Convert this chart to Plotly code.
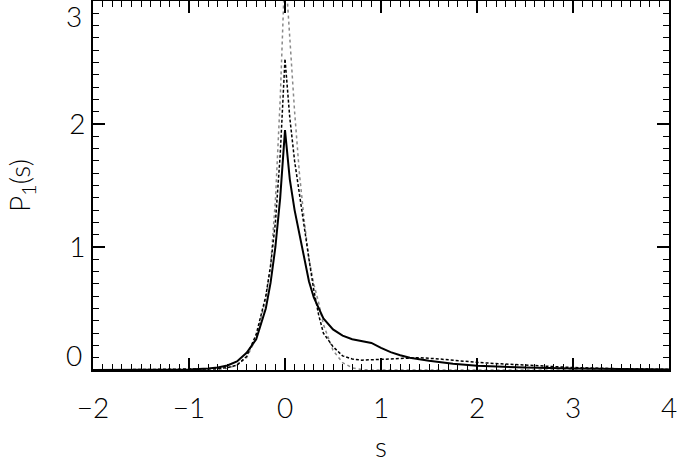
import plotly.graph_objects as go

# Solid curve
s_solid = [-2.0, -1.5, -1.0, -0.8, -0.7, -0.6, -0.5, -0.4, -0.3, -0.2, -0.15, -0.1, -0.05, 0.0,
           0.05, 0.1, 0.15, 0.2, 0.25, 0.3, 0.35, 0.4, 0.5, 0.6, 0.7, 0.8, 0.9, 1.0, 1.1, 1.2,
           1.3, 1.5, 1.75, 2.0, 2.25, 2.5, 3.0, 3.5, 4.0]
p_solid = [0.0, 0.001, 0.005, 0.012, 0.02, 0.037, 0.07, 0.14, 0.25, 0.50, 0.71, 1.0, 1.40, 1.95,
           1.55, 1.30, 1.10, 0.90, 0.72, 0.59, 0.50, 0.42, 0.33, 0.28, 0.25, 0.235, 0.22, 0.18, 0.145, 0.12,
           0.10, 0.075, 0.05, 0.035, 0.027, 0.02, 0.012, 0.007, 0.004]

# Dashed curve
s_dash = [-2.0, -1.0, -0.7, -0.6, -0.5, -0.4, -0.3, -0.2, -0.15, -0.1, -0.05, 0.0,
          0.05, 0.1, 0.15, 0.2, 0.25, 0.3, 0.35, 0.4, 0.5, 0.6, 0.7, 0.8, 1.0, 1.2, 1.4,
          1.6, 1.8, 2.0, 2.25, 2.5, 3.0, 3.5, 4.0]
p_dash = [0.0, 0.003, 0.01, 0.02, 0.04, 0.11, 0.29, 0.60, 0.85, 1.20, 1.75, 2.53,
          2.05, 1.70, 1.42, 1.15, 0.90, 0.65, 0.45, 0.30, 0.19, 0.115, 0.09, 0.08, 0.085, 0.095, 0.10,
          0.09, 0.075, 0.062, 0.05, 0.038, 0.02, 0.01, 0.005]

# Dotted (gray) curve
s_dot = [-2.0, -1.0, -0.7, -0.6, -0.5, -0.4, -0.3, -0.2, -0.15, -0.1, -0.05, 0.0,
         0.05, 0.1, 0.15, 0.2, 0.25, 0.3, 0.35, 0.4, 0.5, 0.6, 0.7, 0.8, 0.9, 4.0]
p_dot = [0.0, 0.0, 0.005, 0.015, 0.04, 0.10, 0.26, 0.58, 0.85, 1.38, 2.2, 3.3,
         2.7, 2.1, 1.6, 1.22, 0.9, 0.70, 0.55, 0.37, 0.16, 0.06, 0.018, 0.003, 0.0, 0.0]

x_ticks = [-2, -1, 0, 1, 2, 3, 4]
y_ticks = [1, 2]
y_bottom_label = "0"
y_top_label = "3"
x_title = "s"
y_title = "P<sub>1</sub>(s)"

fig = go.Figure()
fig.add_trace(go.Scatter(x=s_dot, y=p_dot, mode="lines",
                         line=dict(color="#8a8a8a", width=1.5, dash="dot")))
fig.add_trace(go.Scatter(x=s_dash, y=p_dash, mode="lines",
                         line=dict(color="black", width=1.5, dash="3px,2px")))
fig.add_trace(go.Scatter(x=s_solid, y=p_solid, mode="lines",
                         line=dict(color="black", width=2)))

font = dict(family="Lato", size=28, color="black", weight=300)

axis_common = dict(ticks="inside", ticklen=12, tickwidth=1.5, tickcolor="black",
                   showline=True, linecolor="black", linewidth=2, mirror="ticks",
                   showgrid=False, zeroline=False, tickfont=font, automargin=False,
                   minor=dict(tickmode="linear", tick0=0, dtick=0.1, ticks="inside", ticklen=6,
                              tickwidth=1.2, tickcolor="black", showgrid=False))

fig.update_layout(
    width=678, height=458,
    margin=dict(l=93, r=9, t=1, b=88),
    paper_bgcolor="white", plot_bgcolor="white",
    showlegend=False,
    font=font,
    xaxis=dict(range=[-2, 4], tickmode="array", tickvals=x_ticks, ticklabelstandoff=12,
               **axis_common),
    yaxis=dict(range=[0, 3], tickmode="array", tickvals=y_ticks,
               **axis_common, title=dict(text=y_title, font=font, standoff=30)),
)
fig.add_annotation(x=0.5, xref="paper", xanchor="center",
                   y=0, yref="paper", yanchor="bottom", yshift=-95,
                   text=x_title, showarrow=False, font=font)
fig.add_annotation(x=0, xref="paper", xanchor="right", xshift=-9,
                   y=3, yref="y", yanchor="top", yshift=4,
                   text=y_top_label, showarrow=False, font=font)
fig.add_annotation(x=0, xref="paper", xanchor="right", xshift=-9,
                   y=0, yref="y", yanchor="bottom", yshift=-4,
                   text=y_bottom_label, showarrow=False, font=font)

fig.write_html("out.html", config={"displayModeBar": False},
               post_script="document.body.style.margin='0px';document.body.style.overflow='hidden';")
